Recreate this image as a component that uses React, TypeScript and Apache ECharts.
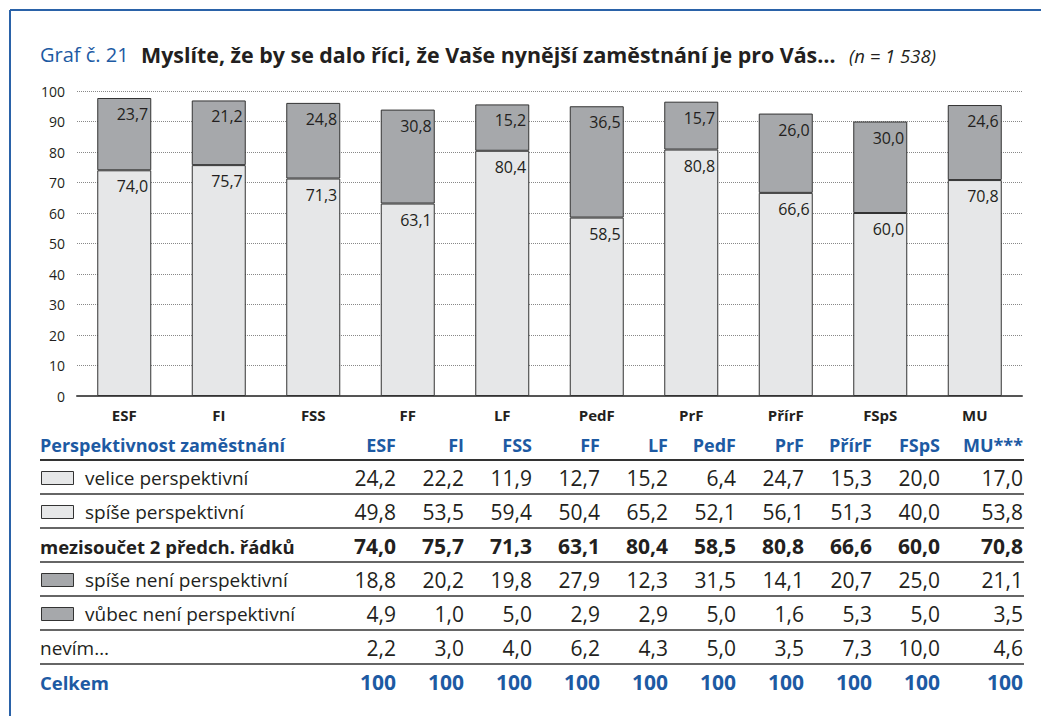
import React, { useEffect, useRef } from "react";
import * as echarts from "echarts";

const categories = ["ESF", "FI", "FSS", "FF", "LF", "PedF", "PrF", "PřírF", "FSpS", "MU"];
const tableHeaders = ["ESF", "FI", "FSS", "FF", "LF", "PedF", "PrF", "PřírF", "FSpS", "MU***"];
// chart: subtotal of positive answers and negative answers
const positiveTotal = [74.0, 75.7, 71.3, 63.1, 80.4, 58.5, 80.8, 66.6, 60.0, 70.8];
const negativeTotal = [23.7, 21.2, 24.8, 30.8, 15.2, 36.5, 15.7, 26.0, 30.0, 24.6];
const yTicks = [0, 10, 20, 30, 40, 50, 60, 70, 80, 90, 100];

// table rows
const veliceP = [24.2, 22.2, 11.9, 12.7, 15.2, 6.4, 24.7, 15.3, 20.0, 17.0];
const spiseP = [49.8, 53.5, 59.4, 50.4, 65.2, 52.1, 56.1, 51.3, 40.0, 53.8];
const mezisoucet = [74.0, 75.7, 71.3, 63.1, 80.4, 58.5, 80.8, 66.6, 60.0, 70.8];
const spiseNeniP = [18.8, 20.2, 19.8, 27.9, 12.3, 31.5, 14.1, 20.7, 25.0, 21.1];
const vubecNeniP = [4.9, 1.0, 5.0, 2.9, 2.9, 5.0, 1.6, 5.3, 5.0, 3.5];
const nevim = [2.2, 3.0, 4.0, 6.2, 4.3, 5.0, 3.5, 7.3, 10.0, 4.6];
const celkem = [100, 100, 100, 100, 100, 100, 100, 100, 100, 100];

const BLUE = "#1d5aa3";
const LIGHT = "#e6e7e8";
const DARK = "#a6a8ab";
const FONT = "'Open Sans', 'Noto Sans', sans-serif";

const fmt = (v: number) => v.toFixed(1).replace(".", ",");

export default function App() {
  const ref = useRef<HTMLDivElement>(null);
  useEffect(() => {
    document.body.style.margin = "0";
    const chart = echarts.init(ref.current!, undefined, { renderer: "svg" });

    const colRight = [396, 464, 532, 600, 668, 736, 804, 872, 940, 1023];
    const rowY = [478, 512, 546, 580, 614, 648, 682];
    const lineY = [460, 494, 528, 562, 596, 630, 664];
    const tableLeft = 40;
    const tableRight = 1024;

    const graphics: any[] = [];
    // frame
    graphics.push({ type: "line", shape: { x1: 10, y1: 10, x2: 1041, y2: 10 }, style: { stroke: "#2a62a8", lineWidth: 2 } });
    graphics.push({ type: "line", shape: { x1: 10, y1: 10, x2: 10, y2: 716 }, style: { stroke: "#2a62a8", lineWidth: 2 } });
    // title
    graphics.push({ type: "text", x: 40, y: 54, style: { text: "Graf č. 21", fill: BLUE, font: `20px ${FONT}`, textVerticalAlign: "middle" } });
    graphics.push({ type: "text", x: 141, y: 54, style: { text: "Myslíte, že by se dalo říci, že Vaše nynější zaměstnání je pro Vás…", fill: "#231f20", font: `bold 21.4px ${FONT}`, textVerticalAlign: "middle" } });
    graphics.push({ type: "text", x: 849, y: 55, style: { text: "(n = 1 538)", fill: "#231f20", font: `italic 18.5px ${FONT}`, textVerticalAlign: "middle" } });

    // table header
    graphics.push({ type: "text", x: tableLeft, y: 445, style: { text: "Perspektivnost zaměstnání", fill: BLUE, font: `bold 18px ${FONT}`, textVerticalAlign: "middle" } });
    tableHeaders.forEach((h, i) => {
      graphics.push({ type: "text", x: colRight[i], y: 445, style: { text: h, fill: BLUE, font: `bold 18px ${FONT}`, textAlign: "right", textVerticalAlign: "middle" } });
    });
    // lines
    lineY.forEach((y, i) => {
      graphics.push({ type: "line", shape: { x1: tableLeft, y1: y, x2: tableRight, y2: y }, style: { stroke: "#333", lineWidth: i === 0 ? 2 : 1.5 } });
    });

    const rows = [
      { label: "velice perspektivní", values: veliceP, swatch: LIGHT, bold: false, color: "#231f20", isInt: false },
      { label: "spíše perspektivní", values: spiseP, swatch: LIGHT, bold: false, color: "#231f20", isInt: false },
      { label: "mezisoučet 2 předch. řádků", values: mezisoucet, swatch: null, bold: true, color: "#231f20", isInt: false },
      { label: "spíše není perspektivní", values: spiseNeniP, swatch: DARK, bold: false, color: "#231f20", isInt: false },
      { label: "vůbec není perspektivní", values: vubecNeniP, swatch: DARK, bold: false, color: "#231f20", isInt: false },
      { label: "nevím…", values: nevim, swatch: null, bold: false, color: "#231f20", isInt: false },
      { label: "Celkem", values: celkem, swatch: null, bold: true, color: BLUE, isInt: true },
    ];
    rows.forEach((r, ri) => {
      const y = rowY[ri];
      const weight = r.bold ? "bold " : "";
      if (r.swatch) {
        graphics.push({ type: "rect", shape: { x: 41.5, y: y - 6.5, width: 32, height: 13 }, style: { fill: r.swatch, stroke: "#333", lineWidth: 1 } });
      }
      const labelSize = r.bold ? 18.5 : 19;
      graphics.push({ type: "text", x: r.swatch ? 85 : tableLeft, y, style: { text: r.label, fill: r.color, font: `${weight}${labelSize}px ${FONT}`, textVerticalAlign: "middle" } });
      r.values.forEach((v, i) => {
        graphics.push({ type: "text", x: colRight[i], y, style: { text: r.isInt ? String(v) : fmt(v), fill: r.color, font: `${weight}21px ${FONT}`, textAlign: "right", textVerticalAlign: "middle" } });
      });
    });

    const label = {
      show: true,
      position: "insideTopRight",
      distance: 3,
      offset: [0, 5],
      fontSize: 16,
      fontFamily: FONT,
      color: "#231f20",
      formatter: (p: any) => fmt(p.value),
    };

    chart.setOption({
      animation: false,
      grid: { left: 77, right: 19, top: 91, bottom: 320, containLabel: false },
      xAxis: {
        type: "category",
        data: categories,
        axisLine: { show: true, lineStyle: { color: "#555", width: 2 } },
        axisTick: { show: false },
        axisLabel: { fontSize: 15, fontWeight: "bold", fontFamily: FONT, color: "#231f20", margin: 11 },
      },
      yAxis: {
        type: "value",
        min: yTicks[0],
        max: yTicks[yTicks.length - 1],
        interval: 10,
        axisLine: { show: false },
        axisTick: { show: false },
        axisLabel: { fontSize: 14, fontFamily: FONT, color: "#231f20", margin: 12 },
        splitLine: { show: true, lineStyle: { type: "dotted", color: "#888", width: 1 } },
      },
      series: [
        {
          type: "bar",
          stack: "total",
          data: positiveTotal,
          barWidth: 54,
          itemStyle: { color: LIGHT, borderColor: "#333", borderWidth: 1 },
          label,
        },
        {
          type: "bar",
          stack: "total",
          data: negativeTotal,
          barWidth: 54,
          itemStyle: { color: DARK, borderColor: "#333", borderWidth: 1 },
          label,
        },
      ],
      graphic: graphics,
    });
    return () => chart.dispose();
  }, []);
  return <div ref={ref} style={{ width: 1041, height: 716 }} />;
}
